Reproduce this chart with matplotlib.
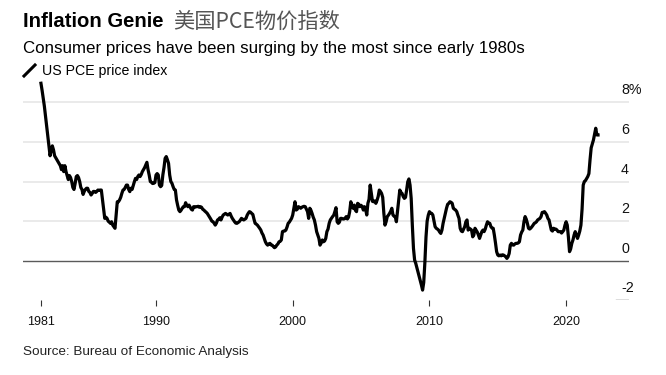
import matplotlib
matplotlib.use("Agg")
import matplotlib.pyplot as plt
from matplotlib.lines import Line2D
import matplotlib.transforms as mtransforms
import numpy as np
import pandas as pd

plt.rcParams['font.family'] = ['Liberation Sans', 'Noto Sans CJK SC', 'DejaVu Sans']

# US PCE price index, % change y/y, monthly from Aug 1981 to May 2022
start_month = "1981-08-01"
pce_yoy = [
    8.96, 8.6, 8.2, 7.8, 7.3,                                              # 1981 (Aug-Dec)
    6.8, 6.3, 5.8, 5.3, 5.6, 5.8, 5.6, 5.3, 5.2, 5.1, 5.0, 4.9,            # 1982
    4.8, 4.6, 4.8, 4.5, 4.8, 4.5, 4.3, 4.1, 4.3, 4.2, 4.0, 3.7,            # 1983
    3.6, 3.9, 4.25, 4.3, 4.2, 4.0, 3.7, 3.6, 3.35, 3.5, 3.6, 3.66,         # 1984
    3.66, 3.5, 3.45, 3.32, 3.4, 3.5, 3.5, 3.45, 3.5, 3.57, 3.55, 3.57,     # 1985
    3.57, 3.1, 2.65, 2.14, 2.2, 2.14, 2.0, 1.95, 1.89, 1.97, 1.8, 1.72,    # 1986
    1.64, 2.3, 2.98, 2.98, 3.07, 3.2, 3.4, 3.57, 3.6, 3.7, 3.82, 3.82,     # 1987
    3.6, 3.49, 3.66, 3.6, 3.8, 3.99, 4.16, 4.1, 4.25, 4.33, 4.25, 4.35,    # 1988
    4.5, 4.6, 4.7, 4.83, 4.97, 4.6, 4.33, 4.0, 3.96, 3.9, 3.91, 3.95,      # 1989
    4.33, 4.4, 4.33, 3.82, 3.74, 3.8, 4.33, 4.7, 5.17, 5.26, 5.1, 4.92,    # 1990
    4.33, 4.0, 3.91, 3.74, 3.6, 3.57, 3.07, 2.8, 2.56, 2.48, 2.55, 2.65,   # 1991
    2.73, 2.73, 2.93, 2.8, 2.73, 2.81, 2.7, 2.6, 2.56, 2.73, 2.7, 2.73,    # 1992
    2.73, 2.75, 2.7, 2.73, 2.7, 2.6, 2.56, 2.5, 2.45, 2.39, 2.3, 2.2,      # 1993
    2.11, 2.0, 1.97, 1.9, 1.8, 1.9, 2.06, 2.1, 2.17, 2.06, 2.2, 2.31,      # 1994
    2.35, 2.39, 2.35, 2.31, 2.35, 2.39, 2.25, 2.14, 2.05, 1.97, 1.9, 1.89, # 1995
    1.93, 1.97, 2.05, 2.14, 2.1, 2.06, 2.1, 2.14, 2.3, 2.4, 2.48, 2.45,    # 1996
    2.39, 2.34, 2.1, 1.89, 1.85, 1.8, 1.72, 1.64, 1.55, 1.4, 1.3, 1.13,    # 1997
    0.96, 0.85, 0.79, 0.85, 0.88, 0.8, 0.79, 0.72, 0.66, 0.7, 0.79, 0.85,  # 1998
    0.96, 0.98, 1.05, 1.47, 1.5, 1.5, 1.55, 1.7, 1.89, 1.95, 2.05, 2.14,   # 1999
    2.31, 2.65, 2.98, 2.56, 2.6, 2.73, 2.7, 2.65, 2.7, 2.73, 2.75, 2.73,   # 2000
    2.6, 2.48, 2.14, 2.65, 2.55, 2.39, 2.2, 2.06, 1.8, 1.47, 1.3, 1.13,    # 2001
    0.79, 0.9, 1.05, 0.96, 1.0, 1.13, 1.47, 1.6, 1.89, 2.06, 2.15, 2.23,   # 2002
    2.3, 2.48, 2.68, 1.97, 1.89, 1.95, 2.14, 2.14, 2.11, 2.11, 2.15, 2.23, # 2003
    2.11, 2.2, 2.48, 2.98, 2.75, 2.65, 2.81, 2.55, 2.48, 2.9, 2.85, 2.73,  # 2004
    2.8, 2.73, 2.56, 2.73, 2.6, 2.31, 2.9, 3.1, 3.82, 3.4, 3.0, 2.98,      # 2005
    3.02, 2.9, 3.05, 3.24, 3.57, 3.5, 3.4, 3.2, 2.4, 1.8, 1.97, 2.23,      # 2006
    2.3, 2.39, 2.5, 2.65, 2.31, 2.25, 2.23, 1.97, 2.5, 3.07, 3.57, 3.45,   # 2007
    3.4, 3.24, 3.15, 3.2, 3.57, 3.99, 4.13, 3.82, 3.15, 1.8, 0.63, 0.04,   # 2008
    -0.13, -0.35, -0.55, -0.81, -1.0, -1.23, -1.48, -1.1, -0.1, 1.2, 2.0, 2.3,  # 2009
    2.48, 2.4, 2.39, 2.31, 2.0, 1.72, 1.64, 1.6, 1.55, 1.45, 1.38, 1.55,   # 2010
    1.89, 2.14, 2.4, 2.65, 2.85, 2.9, 2.98, 2.95, 2.9, 2.65, 2.6, 2.56,    # 2011
    2.48, 2.3, 2.14, 1.64, 1.5, 1.47, 1.6, 1.72, 1.97, 2.06, 1.55, 1.64,   # 2012
    1.6, 1.55, 1.21, 1.3, 1.64, 1.55, 1.45, 1.3, 1.13, 1.3, 1.47, 1.55,    # 2013
    1.47, 1.6, 1.8, 1.97, 1.9, 1.89, 1.72, 1.65, 1.64, 1.3, 0.9, 0.46,     # 2014
    0.29, 0.25, 0.29, 0.25, 0.3, 0.29, 0.25, 0.2, 0.12, 0.2, 0.37, 0.79,   # 2015
    0.88, 0.8, 0.79, 0.85, 0.88, 0.88, 0.9, 0.96, 1.3, 1.45, 1.55, 1.97,   # 2016
    2.23, 2.1, 1.89, 1.64, 1.6, 1.65, 1.72, 1.8, 1.89, 1.92, 1.97, 2.06,   # 2017
    2.1, 2.14, 2.23, 2.44, 2.45, 2.48, 2.4, 2.31, 2.14, 2.06, 1.8, 1.55,   # 2018
    1.5, 1.64, 1.6, 1.6, 1.55, 1.47, 1.47, 1.47, 1.4, 1.47, 1.55, 1.8,     # 2019
    1.97, 1.8, 1.2, 0.46, 0.6, 0.88, 1.05, 1.3, 1.47, 1.3, 1.13, 1.3,      # 2020
    1.5, 1.8, 2.6, 3.82, 4.0, 4.05, 4.15, 4.25, 4.4, 5.1, 5.7, 5.9,        # 2021
    6.1, 6.4, 6.69, 6.35, 6.35,                                            # 2022 (Jan-May)
]

x_ticks = [1981 + 7 / 12, 1990, 2000, 2010, 2020]
x_tick_labels = ["1981", "1990", "2000", "2010", "2020"]
y_grid = [2, 4, 6, 8]
y_labels = ["8%", "6", "4", "2", "0", "-2"]
y_label_vals = [8, 6, 4, 2, 0, -2]

dates = pd.date_range(start_month, periods=len(pce_yoy), freq="MS")
x = dates.year + (dates.month - 1) / 12

W, H = 666, 375
fig = plt.figure(figsize=(W / 100, H / 100), dpi=100)
ax = fig.add_axes([23 / W, (H - 300.4) / H, 606 / W, 221.9 / H])

for v in y_grid:
    ax.axhline(v, color="#e4e4e4", lw=1.1, zorder=1)
ax.axhline(0, color="#5a5a5a", lw=1.0, zorder=2)
ax.axhline(-2, xmin=(616 - 23) / 606, xmax=1, color="#5a5a5a", lw=1.0, zorder=2)

ax.plot(x, pce_yoy, color="black", lw=2.3, zorder=3, solid_joinstyle="round")

ax.set_xlim(1980.27, 2024.60)
ax.set_ylim(-2, 9.2)
for s in ax.spines.values():
    s.set_visible(False)

ax.set_xticks(x_ticks)
ax.set_xticklabels(x_tick_labels, fontsize=9, color="#111111")
ax.tick_params(axis="x", length=4, width=0.8, color="#333333", pad=7)
ax.set_yticks([])

trans = mtransforms.blended_transform_factory(ax.transAxes, ax.transData)
for lab, v in zip(y_labels, y_label_vals):
    ax.text((621 - 23) / 606, v + 0.4, lab, transform=trans, ha="left", va="baseline",
            fontsize=10.3, color="#111111", clip_on=False)

# title, subtitle, legend, source
fig.text(23 / W, 1 - 27.3 / H, "Inflation Genie", fontsize=14.6, fontweight="bold",
         ha="left", va="baseline", color="black")
fig.text(173 / W, 1 - 27.3 / H, "美国PCE物价指数", fontsize=15.3, ha="left", va="baseline",
         color="#555555", family=["Noto Sans CJK SC", "DejaVu Sans"])
fig.text(23 / W, 1 - 53.3 / H, "Consumer prices have been surging by the most since early 1980s",
         fontsize=12.2, ha="left", va="baseline", color="black")
fig.add_artist(Line2D([24 / W, 35 / W], [1 - 76 / H, 1 - 65 / H], color="black", lw=2.2))
fig.text(42 / W, 1 - 75 / H, "US PCE price index", fontsize=10.2, ha="left", va="baseline",
         color="black")
fig.text(23 / W, 1 - 355 / H, "Source: Bureau of Economic Analysis", fontsize=9.7, ha="left",
         va="baseline", color="#222222")

fig.savefig("out.png", dpi=100)
